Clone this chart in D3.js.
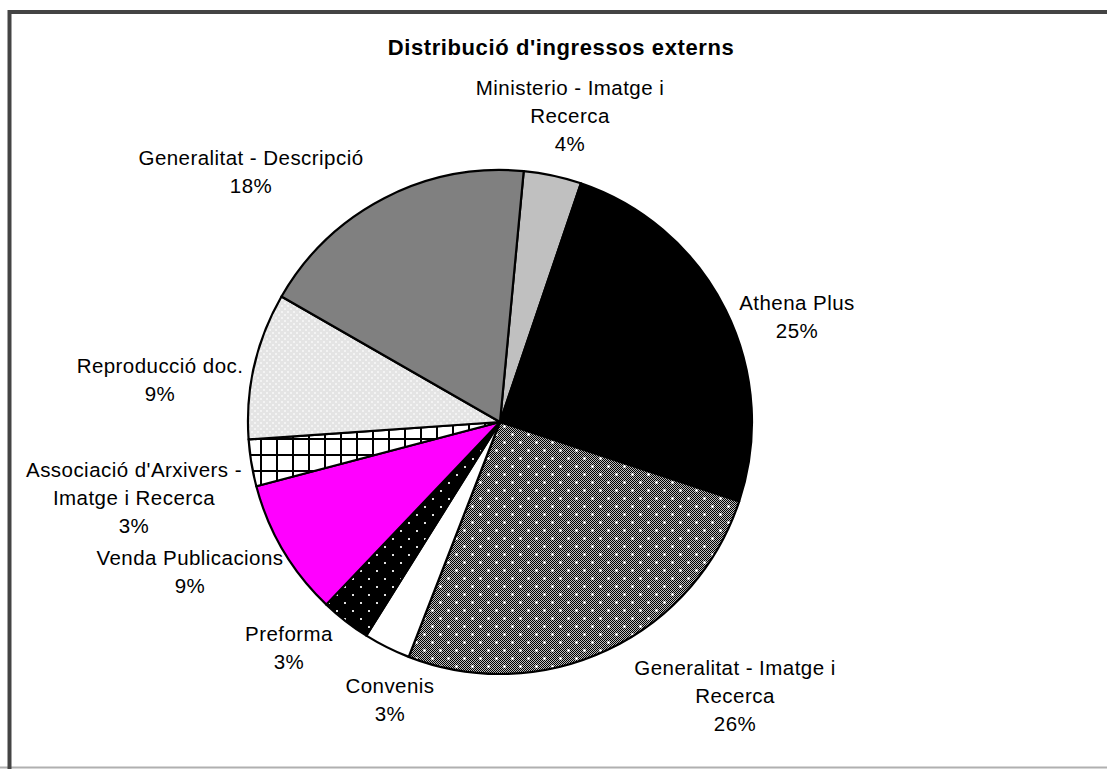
<!DOCTYPE html>
<html>
<head>
<meta charset="utf-8">
<script src="https://cdn.jsdelivr.net/npm/d3@7"></script>
<style>
  html, body { margin: 0; padding: 0; background: #fff; }
  svg { display: block; }
  text { font-family: "Liberation Sans", Arial, sans-serif; fill: #000; }
</style>
</head>
<body>
<svg id="chart" width="1107" height="769"></svg>
<script>
// ---------- data ----------
const title = "Distribució d'ingressos externs";
const categories = [
  "Ministerio - Imatge i Recerca",
  "Athena Plus",
  "Generalitat - Imatge i Recerca",
  "Convenis",
  "Preforma",
  "Venda Publicacions",
  "Associació d'Arxivers - Imatge i Recerca",
  "Reproducció doc.",
  "Generalitat - Descripció"
];
const values = [3.7, 24.9, 25.8, 3.0, 3.2, 8.8, 3.0, 9.4, 18.2];
// label text lines (category wrapped as in the original)
const labelLines = [
  ["Ministerio - Imatge i", "Recerca"],
  ["Athena Plus"],
  ["Generalitat - Imatge i", "Recerca"],
  ["Convenis"],
  ["Preforma"],
  ["Venda Publicacions"],
  ["Associació d'Arxivers -", "Imatge i Recerca"],
  ["Reproducció doc."],
  ["Generalitat - Descripció"]
];

// ---------- layout / style ----------
const W = 1107, H = 769;
const cx = 500, cy = 422, R = 252;
const startDeg = 5.4;
const fills = ["#c0c0c0", "#000000", "url(#pGenImatge)", "#ffffff", "url(#pPreforma)",
               "#ff00ff", "url(#pGrid)", "url(#pRepro)", "#808080"];
// label anchor (center x, first line center y)
const labelPos = [
  [570, 88], [797, 303], [735, 668], [390, 686], [289, 634],
  [190, 558], [134, 470], [160, 366], [251, 158]
];
const lineH = 27.8;

const svg = d3.select("#chart");
const defs = svg.append("defs");

// checker 1px
const chk = defs.append("pattern").attr("id", "chk").attr("patternUnits", "userSpaceOnUse")
  .attr("width", 2).attr("height", 2);
chk.append("rect").attr("width", 2).attr("height", 2).attr("fill", "#bdbdbd");
chk.append("rect").attr("x", 0).attr("y", 0).attr("width", 1).attr("height", 1).attr("fill", "#000");
chk.append("rect").attr("x", 1).attr("y", 1).attr("width", 1).attr("height", 1).attr("fill", "#000");

const pg = defs.append("pattern").attr("id", "pGenImatge").attr("patternUnits", "userSpaceOnUse")
  .attr("width", 16).attr("height", 16);
pg.append("rect").attr("width", 16).attr("height", 16).attr("fill", "url(#chk)");
[[4, 4], [12, 12]].forEach(([x, y]) => {
  pg.append("rect").attr("x", x - 1).attr("y", y).attr("width", 3).attr("height", 1).attr("fill", "#fff");
  pg.append("rect").attr("x", x).attr("y", y - 1).attr("width", 1).attr("height", 3).attr("fill", "#fff");
  pg.append("rect").attr("x", x - 1).attr("y", y - 1).attr("width", 3).attr("height", 3).attr("fill", "#fff").attr("opacity", 0.45);
});

const pp = defs.append("pattern").attr("id", "pPreforma").attr("patternUnits", "userSpaceOnUse")
  .attr("width", 16).attr("height", 16);
pp.append("rect").attr("width", 16).attr("height", 16).attr("fill", "#000");
[[4, 4], [12, 12]].forEach(([x, y]) => {
  pp.append("rect").attr("x", x).attr("y", y).attr("width", 2).attr("height", 2).attr("fill", "#e0e0e0");
});

const pgr = defs.append("pattern").attr("id", "pGrid").attr("patternUnits", "userSpaceOnUse")
  .attr("width", 16).attr("height", 16);
pgr.append("rect").attr("width", 16).attr("height", 16).attr("fill", "#fff");
pgr.append("rect").attr("x", 0).attr("y", 0).attr("width", 2).attr("height", 16).attr("fill", "#000");
pgr.append("rect").attr("x", 0).attr("y", 0).attr("width", 16).attr("height", 2).attr("fill", "#000");

const pr = defs.append("pattern").attr("id", "pRepro").attr("patternUnits", "userSpaceOnUse")
  .attr("width", 6).attr("height", 6);
pr.append("rect").attr("width", 6).attr("height", 6).attr("fill", "#e4e4e4");
pr.append("rect").attr("x", 0).attr("y", 0).attr("width", 2).attr("height", 2).attr("fill", "#f3f3f3");
pr.append("rect").attr("x", 3).attr("y", 3).attr("width", 2).attr("height", 2).attr("fill", "#f3f3f3");

// frame
svg.append("rect").attr("x", 0).attr("y", 0).attr("width", W).attr("height", H).attr("fill", "#fff");
svg.append("line").attr("x1", 0).attr("x2", W).attr("y1", 767.5).attr("y2", 767.5)
  .attr("stroke", "#b0b0b0").attr("stroke-width", 2);
svg.append("path").attr("d", `M9.5,${H} V12 H${W}`)
  .attr("fill", "none").attr("stroke", "#444").attr("stroke-width", 4);

// title
svg.append("text").attr("x", 561).attr("y", 55).attr("text-anchor", "middle")
  .style("font-size", "22px").style("font-weight", "bold").style("letter-spacing", "0.6px")
  .text(title);

// pie
const total = d3.sum(values);
const pie = d3.pie().sort(null).value(d => d)
  .startAngle(startDeg * Math.PI / 180)
  .endAngle(startDeg * Math.PI / 180 + 2 * Math.PI);
const arcs = pie(values);
const arc = d3.arc().innerRadius(0).outerRadius(R);

const g = svg.append("g").attr("transform", `translate(${cx},${cy})`);
g.selectAll("path.slice").data(arcs).enter().append("path")
  .attr("class", "slice")
  .attr("d", arc)
  .attr("fill", (d, i) => fills[i])
  .attr("stroke", "#000").attr("stroke-width", 2.2).attr("stroke-linejoin", "round");

// labels
const lg = svg.append("g");
categories.forEach((c, i) => {
  const lines = labelLines[i].concat([Math.round(values[i] / total * 100) + "%"]);
  const t = lg.append("text").attr("text-anchor", "middle")
    .style("font-size", "20.5px").style("letter-spacing", "0.45px");
  lines.forEach((ln, k) => {
    t.append("tspan").attr("x", labelPos[i][0]).attr("y", labelPos[i][1] + 7 + k * lineH).text(ln);
  });
});
</script>
</body>
</html>
